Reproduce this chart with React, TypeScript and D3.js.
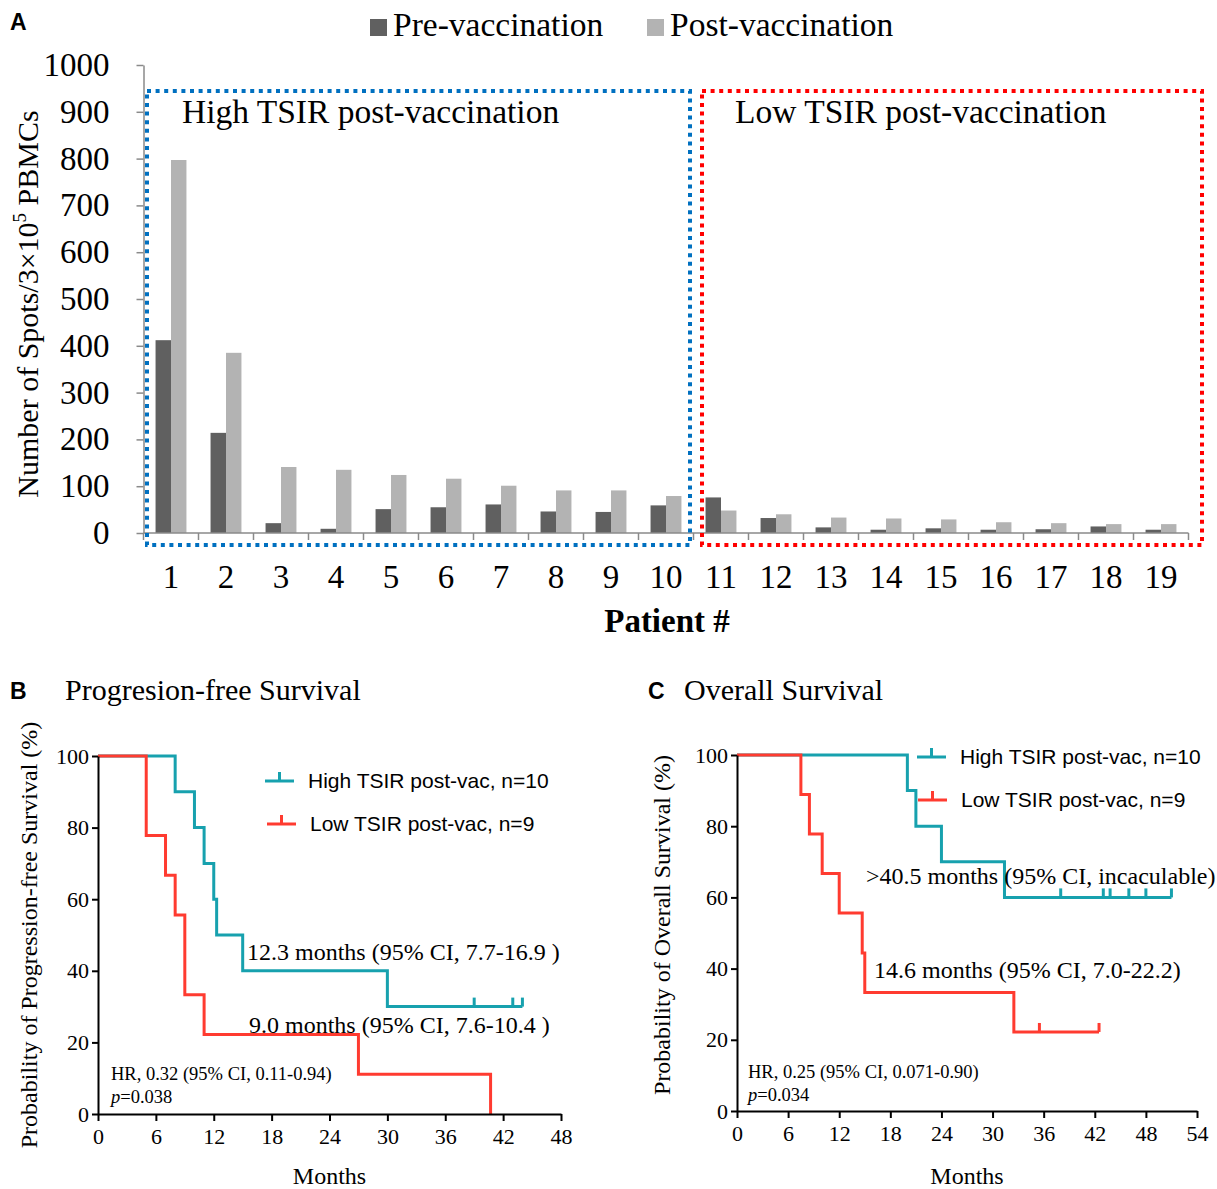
import React, { useEffect, useRef } from 'react';
import * as d3 from 'd3';

// panel A: ELISPOT counts per patient
const patients = ['1', '2', '3', '4', '5', '6', '7', '8', '9', '10', '11', '12', '13', '14', '15', '16', '17', '18', '19'];
const preVac = [412, 214, 21, 9, 51, 55, 61, 46, 45, 59, 76, 32, 12, 7, 10, 7, 8, 14, 7];
const postVac = [797, 385, 141, 135, 124, 116, 101, 91, 91, 79, 48, 40, 33, 31, 29, 23, 21, 19, 19];
const spotTicks = [0, 100, 200, 300, 400, 500, 600, 700, 800, 900, 1000];

// panel B: progression-free survival (step points)
const pfsHighT = [0, 8, 10, 11, 12, 12.3, 15, 30, 44];
const pfsHighS = [100, 90, 80, 70, 60, 50, 40, 30, 30];
const pfsHighCens = [39, 43, 44];
const pfsLowT = [0, 5, 7, 8, 9, 11, 27, 40.7];
const pfsLowS = [100, 77.8, 66.7, 55.6, 33.3, 22.2, 11.1, 0];
const pfsLowCens: number[] = [];

// panel C: overall survival
const osHighT = [0, 20, 21, 24, 31.4, 51];
const osHighS = [100, 90, 80, 70, 60, 60];
const osHighCens = [38, 43, 43.8, 46, 48, 51];
const osLowT = [0, 7.5, 8.5, 10, 12, 14.7, 15, 32.5, 42.5];
const osLowS = [100, 88.9, 77.8, 66.7, 55.6, 44.4, 33.3, 22.2, 22.2];
const osLowCens = [35.5, 42.5];

const pctTicks = [0, 20, 40, 60, 80, 100];

const SERIF = "'Liberation Serif', 'Times New Roman', serif";
const SANS = "'Liberation Sans', Arial, sans-serif";
const TEAL = '#17a1ae';
const RED = '#ff3b30';

type Sel = d3.Selection<SVGSVGElement, unknown, null, undefined>;

function drawBars(svg: Sel) {
  const g = svg.append('g');
  const x = d3.scaleBand().domain(patients).range([143.5, 1188.5]);
  const xi = d3.scaleBand().domain(['pre', 'post']).range([0, x.bandwidth()]).paddingOuter(0.78);
  const y = d3.scaleLinear().domain([0, 1000]).range([533, 65]);

  // panel letter + legend
  g.append('text').attr('x', 10).attr('y', 30).text('A')
    .attr('font-family', SANS).attr('font-weight', 'bold').attr('font-size', 23);
  const leg = [
    { label: 'Pre-vaccination', color: '#606060', x: 370 },
    { label: 'Post-vaccination', color: '#b3b3b3', x: 647 },
  ];
  leg.forEach(l => {
    g.append('rect').attr('x', l.x).attr('y', 19).attr('width', 17).attr('height', 17).attr('fill', l.color);
    g.append('text').attr('x', l.x + 23).attr('y', 36).text(l.label)
      .attr('font-family', SERIF).attr('font-size', 33.5);
  });

  // bars
  const groups = g.append('g').selectAll('g').data(patients).enter().append('g')
    .attr('transform', d => 'translate(' + x(d) + ',0)');
  groups.append('rect')
    .attr('x', xi('pre')!).attr('width', xi.bandwidth())
    .attr('y', (d, i) => y(preVac[i])).attr('height', (d, i) => y(0) - y(preVac[i]))
    .attr('fill', '#606060');
  groups.append('rect')
    .attr('x', xi('post')!).attr('width', xi.bandwidth())
    .attr('y', (d, i) => y(postVac[i])).attr('height', (d, i) => y(0) - y(postVac[i]))
    .attr('fill', '#b3b3b3');

  // y axis
  const ya = g.append('g').attr('transform', 'translate(143.5,0)')
    .call(d3.axisLeft(y).tickValues(spotTicks).tickFormat(d3.format('d')).tickSize(7).tickSizeOuter(0).tickPadding(27));
  ya.select('.domain').attr('stroke', '#8a8a8a').attr('stroke-width', 1.5);
  ya.selectAll('line').attr('stroke', '#8a8a8a').attr('stroke-width', 1.5);
  ya.selectAll('text').attr('font-family', SERIF).attr('font-size', 33).attr('fill', '#000');

  // x axis: ticks on the band edges, labels in the middle
  const [x0, x1] = x.range();
  g.append('line').attr('x1', x0).attr('x2', x1).attr('y1', y(0)).attr('y2', y(0))
    .attr('stroke', '#8a8a8a').attr('stroke-width', 1.5);
  g.append('g').selectAll('line').data(d3.range(patients.length + 1)).enter().append('line')
    .attr('x1', i => x0 + i * x.step()).attr('x2', i => x0 + i * x.step())
    .attr('y1', y(0)).attr('y2', y(0) + 7)
    .attr('stroke', '#8a8a8a').attr('stroke-width', 1.5);
  g.append('g').selectAll('text').data(patients).enter().append('text')
    .attr('x', d => x(d)! + x.bandwidth() / 2).attr('y', 588)
    .attr('text-anchor', 'middle').attr('font-family', SERIF).attr('font-size', 33)
    .text(d => d);

  g.append('text').attr('x', 667).attr('y', 632).attr('text-anchor', 'middle')
    .attr('font-family', SERIF).attr('font-weight', 'bold').attr('font-size', 33).text('Patient #');

  const yl = g.append('text').attr('transform', 'translate(38,304) rotate(-90)')
    .attr('text-anchor', 'middle').attr('font-family', SERIF).attr('font-size', 30);
  yl.append('tspan').text('Number of Spots/3×10');
  yl.append('tspan').attr('font-size', 19).attr('dy', -12).text('5');
  yl.append('tspan').attr('dy', 12).text(' PBMCs');

  // dotted group boxes
  const boxes = [
    { x: 147, w: 543, color: '#0070c0', label: 'High TSIR post-vaccination', lx: 182 },
    { x: 702, w: 500, color: '#ff0000', label: 'Low TSIR post-vaccination', lx: 735 },
  ];
  boxes.forEach(b => {
    g.append('rect').attr('x', b.x).attr('y', 91).attr('width', b.w).attr('height', 454)
      .attr('fill', 'none').attr('stroke', b.color).attr('stroke-width', 4).attr('stroke-dasharray', '4 4.6');
    g.append('text').attr('x', b.lx).attr('y', 123).text(b.label)
      .attr('font-family', SERIF).attr('font-size', 33.5);
  });
}

type Curve = { t: number[]; s: number[]; cens: number[]; color: string };
type KMOpts = {
  letter: string; lx: number; title: string; ty: number;
  xr: [number, number]; yr: [number, number]; xMax: number;
  ylabel: string; ylx: number; yly: number;
  curves: Curve[];
  legend: { x: number; y: number; label: string; color: string }[];
  notes: { x: number; y: number; text: string; size: number; p?: boolean }[];
};

function drawKM(svg: Sel, o: KMOpts) {
  const g = svg.append('g');
  const x = d3.scaleLinear().domain([0, o.xMax]).range(o.xr);
  const y = d3.scaleLinear().domain([0, 100]).range(o.yr);

  g.append('text').attr('x', o.lx).attr('y', o.ty).text(o.letter)
    .attr('font-family', SANS).attr('font-weight', 'bold').attr('font-size', 23);
  g.append('text').attr('x', o.lx + (o.letter === 'B' ? 55 : 36)).attr('y', o.ty + 1).text(o.title)
    .attr('font-family', SERIF).attr('font-size', 30);

  o.curves.forEach(c => {
    const pts: [number, number][] = c.t.map((t, i) => [x(t), y(c.s[i])]);
    g.append('path').attr('d', d3.line().curve(d3.curveStepAfter)(pts))
      .attr('fill', 'none').attr('stroke', c.color).attr('stroke-width', 3);
    // censor marks sit on the step level at that time
    c.cens.forEach(t => {
      let lev = c.s[0];
      c.t.forEach((tt, i) => { if (tt <= t) lev = c.s[i]; });
      g.append('line').attr('x1', x(t)).attr('x2', x(t)).attr('y1', y(lev)).attr('y2', y(lev) - 9)
        .attr('stroke', c.color).attr('stroke-width', 3);
    });
  });

  const ya = g.append('g').attr('transform', 'translate(' + o.xr[0] + ',0)')
    .call(d3.axisLeft(y).tickValues(pctTicks).tickSize(6).tickSizeOuter(0).tickPadding(3));
  const xa = g.append('g').attr('transform', 'translate(0,' + o.yr[0] + ')')
    .call(d3.axisBottom(x).tickValues(d3.range(0, o.xMax + 1, 6)).tickSize(7).tickSizeOuter(0).tickPadding(7));
  [ya, xa].forEach(a => {
    a.select('.domain').attr('stroke', '#000').attr('stroke-width', 2);
    a.selectAll('line').attr('stroke', '#000').attr('stroke-width', 2);
    a.selectAll('text').attr('font-family', SERIF).attr('font-size', 22).attr('fill', '#000');
  });

  g.append('text').attr('x', (o.xr[0] + o.xr[1]) / 2).attr('y', 1184).attr('text-anchor', 'middle')
    .attr('font-family', SERIF).attr('font-size', 24).text('Months');
  g.append('text').attr('transform', 'translate(' + o.ylx + ',' + o.yly + ') rotate(-90)')
    .attr('text-anchor', 'middle').attr('font-family', SERIF).attr('font-size', 24).text(o.ylabel);

  o.legend.forEach(l => {
    g.append('line').attr('x1', l.x).attr('x2', l.x + 29).attr('y1', l.y).attr('y2', l.y)
      .attr('stroke', l.color).attr('stroke-width', 3);
    g.append('line').attr('x1', l.x + 14.5).attr('x2', l.x + 14.5).attr('y1', l.y).attr('y2', l.y - 9)
      .attr('stroke', l.color).attr('stroke-width', 3);
    g.append('text').attr('x', l.x + 43).attr('y', l.y + 7).text(l.label)
      .attr('font-family', SANS).attr('font-size', 21);
  });

  o.notes.forEach(n => {
    const t = g.append('text').attr('x', n.x).attr('y', n.y)
      .attr('font-family', SERIF).attr('font-size', n.size);
    if (n.p) {
      t.append('tspan').attr('font-style', 'italic').text('p');
      t.append('tspan').text(n.text);
    } else {
      t.text(n.text);
    }
  });
}

export default function App() {
  const ref = useRef<SVGSVGElement>(null);

  useEffect(() => {
    const svg = d3.select(ref.current!) as Sel;
    svg.selectAll('*').remove();
    drawBars(svg);

    drawKM(svg, {
      letter: 'B', lx: 10, title: 'Progresion-free Survival', ty: 699,
      xr: [98, 561], yr: [1114, 756], xMax: 48,
      ylabel: 'Probability of Progression-free Survival (%)', ylx: 37, yly: 935,
      curves: [
        { t: pfsHighT, s: pfsHighS, cens: pfsHighCens, color: TEAL },
        { t: pfsLowT, s: pfsLowS, cens: pfsLowCens, color: RED },
      ],
      legend: [
        { x: 265, y: 781, label: 'High TSIR post-vac, n=10', color: TEAL },
        { x: 267, y: 824, label: 'Low TSIR post-vac, n=9', color: RED },
      ],
      notes: [
        { x: 247, y: 960, text: '12.3 months (95% CI, 7.7-16.9 )', size: 24 },
        { x: 249, y: 1033, text: '9.0 months (95% CI, 7.6-10.4 )', size: 24 },
        { x: 111, y: 1080, text: 'HR, 0.32 (95% CI, 0.11-0.94)', size: 18.5 },
        { x: 111, y: 1103, text: '=0.038', size: 18.5, p: true },
      ],
    });

    drawKM(svg, {
      letter: 'C', lx: 648, title: 'Overall Survival', ty: 699,
      xr: [737, 1197], yr: [1111, 755], xMax: 54,
      ylabel: 'Probability of Overall Survival (%)', ylx: 670, yly: 925,
      curves: [
        { t: osHighT, s: osHighS, cens: osHighCens, color: TEAL },
        { t: osLowT, s: osLowS, cens: osLowCens, color: RED },
      ],
      legend: [
        { x: 917, y: 757, label: 'High TSIR post-vac, n=10', color: TEAL },
        { x: 918, y: 800, label: 'Low TSIR post-vac, n=9', color: RED },
      ],
      notes: [
        { x: 866, y: 884, text: '>40.5 months (95% CI, incaculable)', size: 24 },
        { x: 874, y: 978, text: '14.6 months (95% CI, 7.0-22.2)', size: 24 },
        { x: 748, y: 1078, text: 'HR, 0.25 (95% CI, 0.071-0.90)', size: 18.5 },
        { x: 748, y: 1101, text: '=0.034', size: 18.5, p: true },
      ],
    });
  }, []);

  return (
    <svg ref={ref} width={1217} height={1189}
      style={{ position: 'absolute', left: 0, top: 0, background: '#fff' }} />
  );
}
